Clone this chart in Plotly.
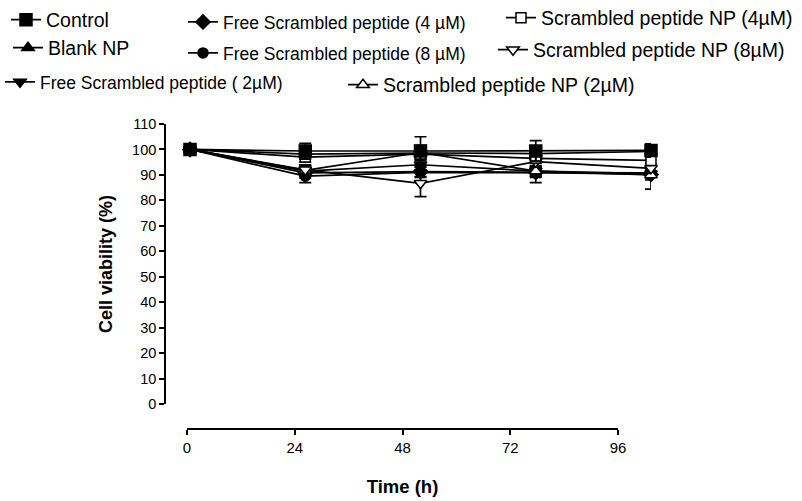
import plotly.graph_objects as go

W, H = 802, 501

time_h = [0, 24, 48, 72, 96]
tick_vals_x = [0, 24, 48, 72, 96]
tick_vals_y = list(range(0, 111, 10))

series_names = [
    "Free Scrambled peptide ( 2µM)",
    "Free Scrambled peptide (4 µM)",
    "Free Scrambled peptide (8 µM)",
    "Scrambled peptide NP (2µM)",
    "Scrambled peptide NP (8µM)",
    "Scrambled peptide NP (4µM)",
    "Blank NP",
    "Control",
]
free_2 = [100, 91.5, 94.0, 91.5, 90.5]
free_4 = [100, 90.8, 91.3, 91.0, 90.2]
free_8 = [100, 89.5, 91.0, 90.8, 90.8]
np_2 = [100, 91.8, 98.8, 91.5, 90.0]
np_8 = [100, 92.0, 86.7, 95.2, 92.6]
np_4 = [100, 97.0, 98.2, 96.5, 95.7]
blank_np = [100, 98.2, 98.6, 98.4, 99.2]
control = [100, 99.4, 99.4, 99.4, 99.6]

err_free_2 = [0, 2, 2, 2, 2]
err_free_4 = [0, 2, 2, 2, 5.8]
err_free_8 = [0, 2.5, 2, 3.8, 2]
err_np_2 = [0, 2, 2, 2, 2]
err_np_8 = [0, 2, 5.2, 2, 2]
err_np_4 = [0, 2, 2, 2, 2]
err_blank = [0, 2, 3, 3, 2]
err_control = [0, 3, 5.6, 4.1, 2.6]

values = [free_2, free_4, free_8, np_2, np_8, np_4, blank_np, control]
errors = [err_free_2, err_free_4, err_free_8, err_np_2, err_np_8, err_np_4, err_blank, err_control]
symbols = ["triangle-down", "diamond", "circle", "triangle-up", "triangle-down", "square", "triangle-up", "square"]
filled = [True, True, True, False, False, False, True, True]
sizes = [11, 11, 10, 11, 11, 10, 11, 12]

# legend placement (pixel coords: text start x, text centre y, font size)
legend_pos = {
    "Control": (48, 20, 19.5),
    "Blank NP": (50, 48, 19.5),
    "Free Scrambled peptide ( 2µM)": (42, 82, 17.5),
    "Free Scrambled peptide (4 µM)": (225, 22, 17.5),
    "Free Scrambled peptide (8 µM)": (225, 53, 17.5),
    "Scrambled peptide NP (2µM)": (385, 85, 19.5),
    "Scrambled peptide NP (4µM)": (543, 18, 19.5),
    "Scrambled peptide NP (8µM)": (535, 50, 19.5),
}

FONT = "Liberation Sans, Arial, sans-serif"

fig = go.Figure()
layout_legends = {}
for i, (name, vals, errs, sym, fl, sz) in enumerate(zip(series_names, values, errors, symbols, filled, sizes)):
    lg = "legend" if i == 0 else f"legend{i+1}"
    fig.add_trace(go.Scatter(
        x=time_h, y=vals, name=name, mode="lines+markers",
        line=dict(color="black", width=1.7),
        marker=dict(symbol=sym, size=sz, color="black" if fl else "white",
                    line=dict(color="black", width=1.5)),
        error_y=dict(type="data", array=errs, visible=True, color="black", thickness=1.7, width=6),
        cliponaxis=False, legend=lg, xaxis="x", yaxis="y",
    ))
    tx, ty, fs = legend_pos[name]
    layout_legends[lg] = dict(
        x=(tx - 42) / W, y=1 - ty / H, xanchor="left", yanchor="middle",
        bgcolor="rgba(0,0,0,0)", borderwidth=0, itemwidth=30,
        font=dict(family=FONT, size=fs, color="black"),
        tracegroupgap=0,
    )

# empty trace so that the separate, displayed time axis is rendered
fig.add_trace(go.Scatter(x=[], y=[], xaxis="x2", yaxis="y2", showlegend=False, hoverinfo="skip"))

fig.update_layout(
    width=W, height=H,
    margin=dict(l=0, r=0, t=0, b=0, autoexpand=False),
    paper_bgcolor="white", plot_bgcolor="white",
    showlegend=True,
    font=dict(family=FONT, color="black"),
    xaxis=dict(domain=[190 / W, 651 / W], range=[0, 96], visible=False, anchor="y"),
    yaxis=dict(
        domain=[1 - 404 / H, 1 - 124 / H], range=[0, 110], anchor="free", position=165 / W,
        tickmode="array", tickvals=tick_vals_y,
        ticks="outside", ticklen=5, tickwidth=1.6, tickcolor="black",
        showline=True, linecolor="black", linewidth=1.6, showgrid=False, zeroline=False,
        tickfont=dict(family=FONT, size=14.5, color="black"),
        title=dict(text="<b>Cell viability (%)</b>", font=dict(family=FONT, size=18, color="black"), standoff=14),
    ),
    xaxis2=dict(
        domain=[187 / W, 618 / W], range=[0, 96], anchor="y2",
        tickmode="array", tickvals=tick_vals_x, ticktext=[str(v) for v in tick_vals_x],
        ticks="outside", ticklen=5, tickwidth=1.6, tickcolor="black",
        showline=True, linecolor="black", linewidth=1.6, showgrid=False, zeroline=False,
        tickfont=dict(family=FONT, size=15, color="black"),
        title=dict(text="<b>Time (h)</b>", font=dict(family=FONT, size=18.5, color="black"), standoff=25),
    ),
    yaxis2=dict(domain=[1 - 428 / H, 1 - 420 / H], range=[0, 1], visible=False, anchor="x2"),
    **layout_legends,
)

fig.write_html("out.html")
